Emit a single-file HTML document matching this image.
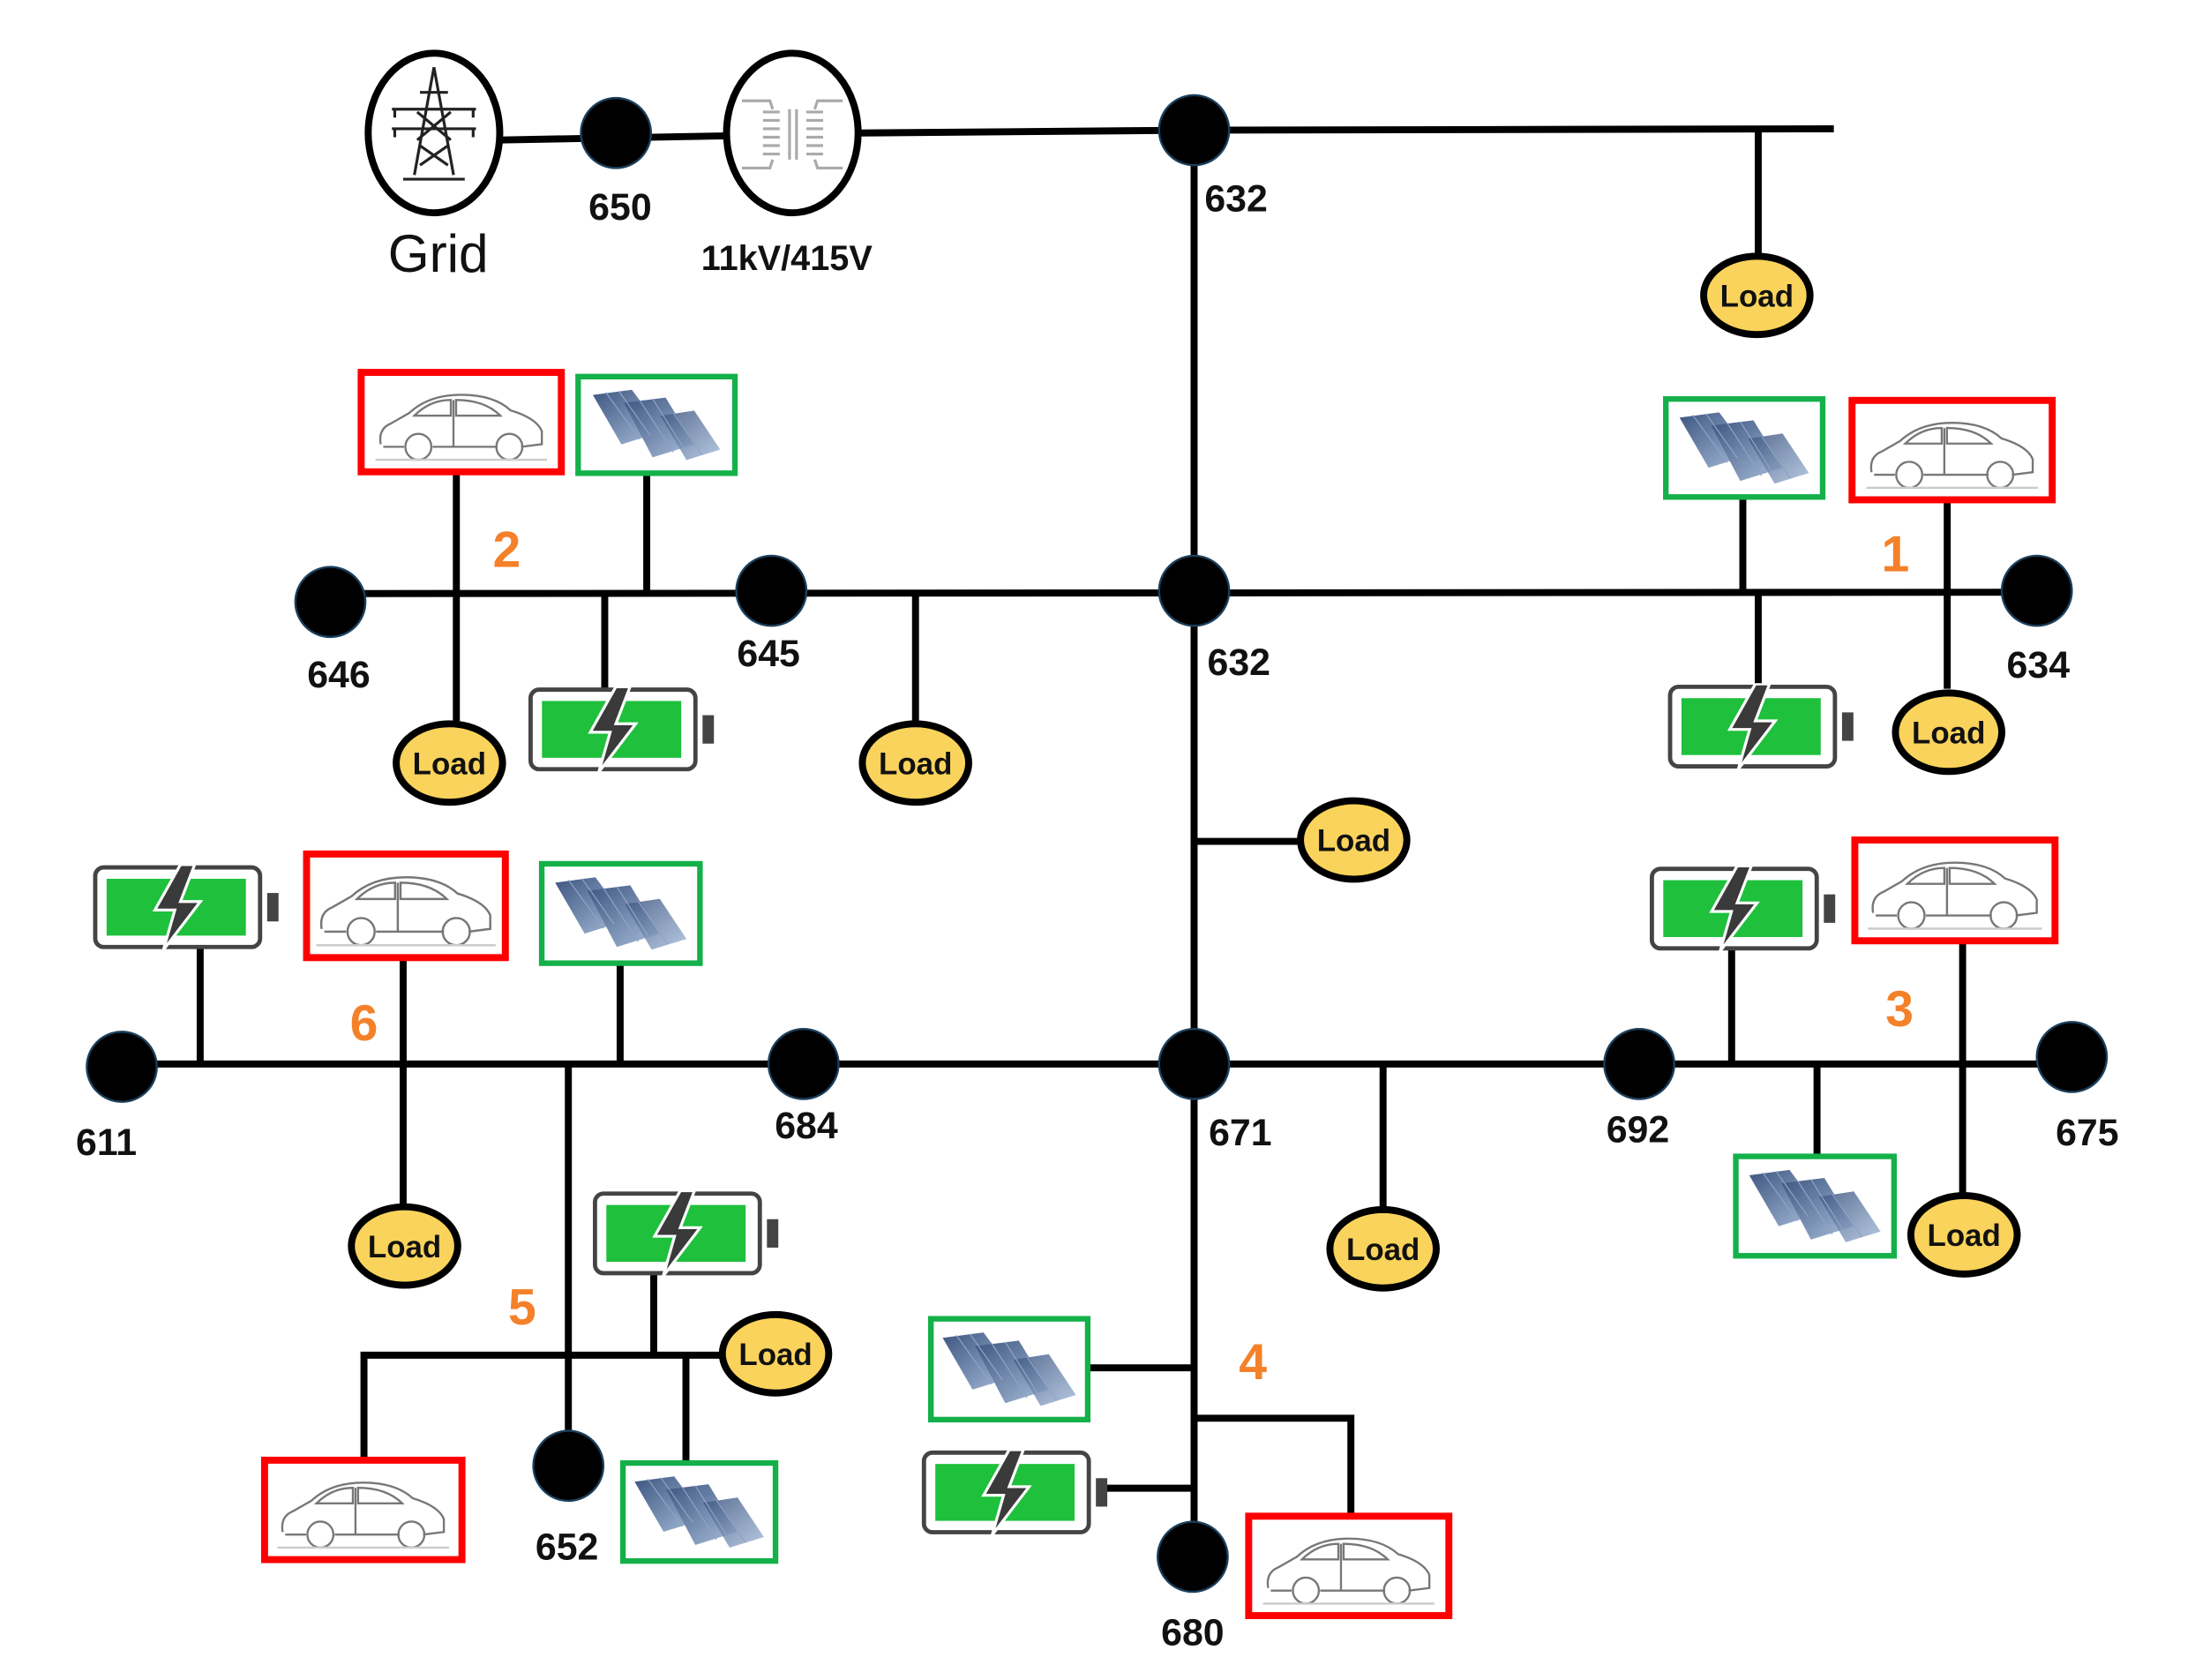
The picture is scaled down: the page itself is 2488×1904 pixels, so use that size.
<!DOCTYPE html>
<html><head><meta charset="utf-8"><style>
html,body{margin:0;padding:0;background:#fff;}
svg{display:block;}
text{font-family:"Liberation Sans",sans-serif;}
.n{font-weight:bold;font-size:27px;fill:#111;text-anchor:middle;}
.o{font-weight:bold;font-size:36px;fill:#F4812A;text-anchor:middle;}
</style></head><body>
<svg width="2488" height="1904" viewBox="0 0 1568 1200" preserveAspectRatio="none" xmlns="http://www.w3.org/2000/svg">
<defs>
<linearGradient id="sg" x1="0" y1="0" x2="1" y2="1"><stop offset="0" stop-color="#3d5580"/><stop offset="1" stop-color="#a9bedb"/></linearGradient>
<symbol id="car" viewBox="0 0 140 70">
<rect x="0" y="0" width="140" height="70" fill="#fff" stroke="none"/>
<g fill="none" stroke="#777" stroke-width="1.6">
<path d="M8 52 Q6 40 16 36 L30 28 Q45 14 70 14 Q95 14 108 26 Q128 32 132 42 L132 52 L116 54 M98 54 L48 54 M26 54 L10 54 Z"/>
<path d="M34 30 Q46 18 62 18 L62 30 Z M66 18 Q88 18 100 30 L66 30 Z"/>
<line x1="64" y1="18" x2="64" y2="54"/>
<circle cx="37" cy="54" r="10"/><circle cx="107" cy="54" r="10"/>
<line x1="4" y1="64" x2="136" y2="64" stroke="#ccc"/>
</g></symbol>
<symbol id="solar" viewBox="0 0 110 70">
<rect width="110" height="70" fill="#fff" stroke="none"/>
<path d="M6 12 L36 8 L60 40 L28 50 Z" fill="url(#sg)" stroke="none"/>
<path d="M30 18 L62 14 L84 50 L52 60 Z" fill="url(#sg)" stroke="none"/>
<path d="M58 28 L84 24 L104 54 L78 62 Z" fill="url(#sg)" opacity="0.85" stroke="none"/>
<g stroke="#8fa3c4" stroke-width="0.8" fill="none"><path d="M16 10 L42 46 M26 9 L50 43 M42 16 L68 56 M52 15 L76 53 M68 26 L90 58"/></g>
</symbol>
<symbol id="bat" viewBox="0 0 132 60">
<rect x="2" y="2" width="116" height="56" rx="6" fill="#fff" stroke="#444" stroke-width="3"/>
<rect x="123" y="20" width="8" height="20" fill="#444" stroke="none"/>
<rect x="10" y="10" width="98" height="40" fill="#1ec03c" stroke="none"/>
<path d="M62 0 L44 32 L58 32 L50 60 L76 26 L62 26 L72 0 Z" fill="#3a3a3a" stroke="#fff" stroke-width="2"/>
</symbol>
<symbol id="load" viewBox="0 0 84 64">
<ellipse cx="42" cy="32" rx="38" ry="28" fill="#F9D35B" stroke="#000" stroke-width="5"/>
<text x="42" y="40" font-family="Liberation Sans,sans-serif" font-weight="bold" font-size="22" text-anchor="middle" fill="#111">Load</text>
</symbol>
</defs>
<g stroke="#000" stroke-width="5" fill="none" stroke-linecap="butt">
<line x1="357" y1="100" x2="520" y2="97"/>
<line x1="613" y1="95" x2="853" y2="93"/>
<line x1="853" y1="93" x2="1310" y2="92"/>
<line x1="1256" y1="92" x2="1256" y2="185"/>
<line x1="853" y1="93" x2="853" y2="1110"/>
<line x1="236" y1="424" x2="1455" y2="423"/>
<line x1="326" y1="337" x2="326" y2="515"/>
<line x1="462" y1="338" x2="462" y2="424"/>
<line x1="432" y1="424" x2="432" y2="492"/>
<line x1="654" y1="424" x2="654" y2="515"/>
<line x1="1245" y1="355" x2="1245" y2="424"/>
<line x1="1391" y1="357" x2="1391" y2="492"/>
<line x1="1256" y1="424" x2="1256" y2="490"/>
<line x1="853" y1="601" x2="930" y2="601"/>
<line x1="87" y1="760" x2="1480" y2="760"/>
<line x1="143" y1="677" x2="143" y2="760"/>
<line x1="288" y1="684" x2="288" y2="860"/>
<line x1="443" y1="688" x2="443" y2="760"/>
<line x1="406" y1="760" x2="406" y2="1045"/>
<polyline points="260,1043 260,968 517,968"/>
<line x1="467" y1="910" x2="467" y2="968"/>
<line x1="490" y1="968" x2="490" y2="1045"/>
<line x1="988" y1="760" x2="988" y2="862"/>
<line x1="1237" y1="678" x2="1237" y2="760"/>
<line x1="1402" y1="672" x2="1402" y2="852"/>
<line x1="1298" y1="760" x2="1298" y2="826"/>
<line x1="777" y1="977" x2="853" y2="977"/>
<polyline points="853,1013 965,1013 965,1083"/>
<line x1="790" y1="1063" x2="853" y2="1063"/>
</g>
<ellipse cx="310" cy="95" rx="47" ry="57" fill="#fff" stroke="#000" stroke-width="5"/>
<g stroke="#222" stroke-width="2" fill="none">
<path d="M310 48 L296 125 M310 48 L324 125 M288 128 L332 128 M300 66 L320 66 M280 78 L340 78 M280 92 L340 92 M298 80 L322 100 M322 80 L298 100 M300 104 L320 118 M320 104 L300 118 M282 78 L282 84 M338 78 L338 84 M282 92 L282 98 M338 92 L338 98"/>
</g>
<ellipse cx="566" cy="95" rx="47" ry="57" fill="#fff" stroke="#000" stroke-width="5"/>
<g stroke="#aaa" stroke-width="2" fill="none">
<path d="M530 72 L550 72 L552 78 M530 120 L550 120 L552 114 M602 72 L584 72 L582 78 M602 120 L584 120 L582 114"/>
<path d="M545 80 h12 M545 86 h12 M545 92 h12 M545 98 h12 M545 104 h12 M545 110 h12 M576 80 h12 M576 86 h12 M576 92 h12 M576 98 h12 M576 104 h12 M576 110 h12 M564 78 v36 M569 78 v36"/>
</g>
<g fill="#000" stroke="#1b3f5c" stroke-width="1.5">
<circle cx="440" cy="95" r="25"/>
<circle cx="853" cy="93" r="25"/>
<circle cx="236" cy="430" r="25"/>
<circle cx="551" cy="422" r="25"/>
<circle cx="853" cy="422" r="25"/>
<circle cx="1455" cy="422" r="25"/>
<circle cx="87" cy="762" r="25"/>
<circle cx="574" cy="760" r="25"/>
<circle cx="853" cy="760" r="25"/>
<circle cx="1171" cy="760" r="25"/>
<circle cx="1480" cy="755" r="25"/>
<circle cx="406" cy="1047" r="25"/>
<circle cx="852" cy="1112" r="25"/>
</g>
<g fill="none" stroke="#f00" stroke-width="5">
<use href="#car" x="261" y="269" width="137" height="65"/><rect x="258" y="266" width="143" height="71"/>
<use href="#car" x="1326" y="289" width="137" height="65"/><rect x="1323" y="286" width="143" height="71"/>
<use href="#car" x="222" y="613" width="136" height="68"/><rect x="219" y="610" width="142" height="74"/>
<use href="#car" x="1328" y="603" width="137" height="66"/><rect x="1325" y="600" width="143" height="72"/>
<use href="#car" x="192" y="1046" width="135" height="65"/><rect x="189" y="1043" width="141" height="71"/>
<use href="#car" x="895" y="1086" width="137" height="65"/><rect x="892" y="1083" width="143" height="71"/>
</g>
<g fill="none" stroke="#14b04a" stroke-width="4">
<use href="#solar" x="415" y="271" width="108" height="65"/><rect x="413" y="269" width="112" height="69"/>
<use href="#solar" x="1192" y="287" width="108" height="66"/><rect x="1190" y="285" width="112" height="70"/>
<use href="#solar" x="389" y="619" width="109" height="67"/><rect x="387" y="617" width="113" height="71"/>
<use href="#solar" x="1242" y="828" width="109" height="67"/><rect x="1240" y="826" width="113" height="71"/>
<use href="#solar" x="447" y="1047" width="105" height="66"/><rect x="445" y="1045" width="109" height="70"/>
<use href="#solar" x="667" y="944" width="108" height="68"/><rect x="665" y="942" width="112" height="72"/>
</g>
<use href="#bat" x="377" y="490" width="134" height="62"/>
<use href="#bat" x="1191" y="488" width="134" height="62"/>
<use href="#bat" x="66" y="617" width="134" height="62"/>
<use href="#bat" x="1178" y="618" width="134" height="62"/>
<use href="#bat" x="423" y="850" width="134" height="62"/>
<use href="#bat" x="658" y="1035" width="134" height="62"/>
<use href="#load" x="1213" y="179" width="84" height="64"/>
<use href="#load" x="279" y="513" width="84" height="64"/>
<use href="#load" x="612" y="513" width="84" height="64"/>
<use href="#load" x="1350" y="491" width="84" height="64"/>
<use href="#load" x="925" y="568" width="84" height="64"/>
<use href="#load" x="247" y="858" width="84" height="64"/>
<use href="#load" x="512" y="935" width="84" height="64"/>
<use href="#load" x="946" y="860" width="84" height="64"/>
<use href="#load" x="1361" y="850" width="84" height="64"/>
<text x="313" y="194" font-size="38" text-anchor="middle" fill="#111">Grid</text>
<text class="n" x="443" y="157">650</text>
<text class="n" x="562" y="193" style="font-size:25px">11kV/415V</text>
<text class="n" x="883" y="151">632</text>
<text class="n" x="242" y="491">646</text>
<text class="n" x="549" y="476">645</text>
<text class="n" x="885" y="482">632</text>
<text class="n" x="1456" y="484">634</text>
<text class="n" x="76" y="825">611</text>
<text class="n" x="576" y="813">684</text>
<text class="n" x="886" y="818">671</text>
<text class="n" x="1170" y="816">692</text>
<text class="n" x="1491" y="818">675</text>
<text class="n" x="405" y="1114">652</text>
<text class="n" x="852" y="1175">680</text>
<text class="o" x="362" y="405">2</text>
<text class="o" x="1354" y="408">1</text>
<text class="o" x="260" y="743">6</text>
<text class="o" x="1357" y="733">3</text>
<text class="o" x="373" y="946">5</text>
<text class="o" x="895" y="985">4</text>
</svg>
</body></html>
